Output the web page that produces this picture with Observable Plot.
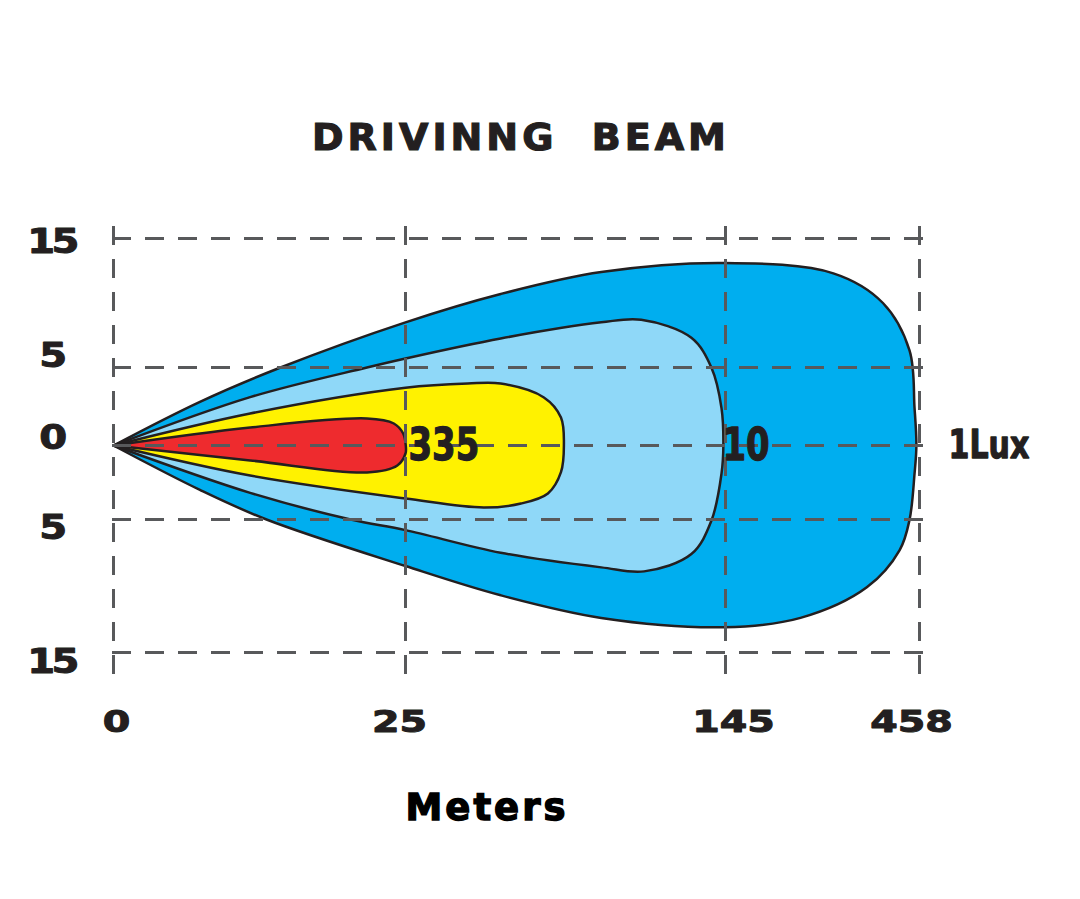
<!DOCTYPE html>
<html>
<head>
<meta charset="utf-8">
<script src="https://cdn.jsdelivr.net/npm/d3@7"></script>
<script src="https://cdn.jsdelivr.net/npm/@observablehq/plot@0.6"></script>
<style>
  html, body { margin: 0; padding: 0; background: #ffffff; }
  body { width: 1080px; height: 899px; overflow: hidden; color: #231f20; }
  #title {
    height: 180px; box-sizing: border-box; padding-top: 116px;
    width: 1042px; text-align: center;
    font-family: "DejaVu Sans", sans-serif; font-weight: bold; font-size: 38px;
    line-height: 42px; letter-spacing: 4px; white-space: pre;
    -webkit-text-stroke: 1.2px #231f20;
  }
  #chart svg { display: block; }
  #xlabel {
    width: 974px; text-align: center; margin-top: 28px;
    font-family: "DejaVu Sans", sans-serif; font-weight: bold; font-size: 37px;
    line-height: 40px; letter-spacing: 3px;
    -webkit-text-stroke: 1.4px #000;
    color: #000;
  }
</style>
</head>
<body>
<div id="title">DRIVINNG  BEAM</div>
<div id="chart"></div>
<div id="xlabel">Meters</div>
<script>
// Axis ticks
const xTicks = [0, 25, 145, 458];
const xTickLabels = ["0", "25", "145", "458"];
const yTicks = [15, 5, 0, -5, -15];
const yTickLabels = ["15", "5", "0", "5", "15"];

// Isolux contours (x in meters, y lateral offset)
const outerX = [0, 7.4, 14.3, 25, 60.7, 98.4, 144.6, 319, 399, 442, 450, 453, 450, 442, 426, 373, 266, 144.6, 98.4, 60.7, 25, 13.1, 7.4, 0];
const outerY = [0, 2.8, 5, 8.5, 10.7, 12.4, 13.1, 12.3, 10, 6.3, 2.4, 0, -1.9, -5, -7.3, -10.1, -12.4, -13.1, -12.4, -10.7, -8.5, -5, -3.0, 0];

const lightX = [0, 11.7, 21.7, 25, 60.7, 98.4, 113.4, 132.2, 139.7, 143.5, 144.2, 143.5, 139.7, 132.2, 114.5, 98.4, 60.7, 25, 20.3, 11.7, 0];
const lightY = [0, 3.1, 5, 5.7, 7.25, 8.5, 8.7, 7.3, 5, 2.4, 0, -1.9, -5.1, -7.6, -8.9, -8.6, -7.5, -5.8, -5, -3.2, 0];

const yellowX = [0, 11.7, 25, 48.3, 60.7, 76.9, 83.3, 84.4, 83.3, 78.4, 68.3, 54.3, 25, 11.7, 0];
const yellowY = [0, 2.05, 3.7, 3.97, 3.97, 3.08, 1.79, 0, -1.8, -3.24, -3.92, -4.19, -3.58, -2.03, 0];

const redX = [0, 11.7, 21.7, 24.0, 24.8, 25.1, 25.0, 24.3, 21.7, 11.7, 0];
const redY = [0, 1.15, 1.73, 1.41, 0.77, 0, -0.54, -1.35, -1.82, -1.01, 0];

// Lux labels
const luxLabels = ["335", "10", "1Lux"];
const luxLabelX = [25, 145, 458];

const toRows = (xs, ys) => xs.map((x, i) => ({x, y: ys[i]}));

// ---- styling ----
const ink = "#231f20";
const gridStyle = {stroke: "#58595b", strokeWidth: 3, strokeDasharray: "19,14"};
const contourStyle = {x: "x", y: "y", stroke: ink, strokeWidth: 2.5, curve: "catmull-rom"};
const luxDx = [3, -3, 29];
const luxSize = [44, 44, 39];
const xLabelNudge = [3, -6, 8, -8];     // the original tick labels sit slightly off their gridlines
const yLabelNudge = [4, -11, -7, 9, 10];
const boldFont = {fontFamily: "'DejaVu Sans', sans-serif", fontWeight: "bold", fill: ink, stroke: ink};

const luxMarks = luxLabels.map((t, i) => Plot.text([t], {
  x: () => luxLabelX[i], y: () => 0, text: d => d, dx: luxDx[i],
  ...boldFont, strokeWidth: 1.3, fontSize: luxSize[i], textAnchor: "start"
}));
const xLabelMarks = xTicks.map((v, i) => Plot.text([v], {
  x: d => d, text: () => xTickLabels[i], frameAnchor: "bottom", dy: 51, dx: xLabelNudge[i],
  ...boldFont, strokeWidth: 1, fontSize: 30
}));
const yLabelMarks = yTicks.map((v, i) => Plot.text([v], {
  y: d => d, text: () => yTickLabels[i], frameAnchor: "left", dx: -61, dy: yLabelNudge[i], textAnchor: "middle",
  ...boldFont, strokeWidth: 1, fontSize: 34
}));

const chart = Plot.plot({
  width: 1080,
  height: 580,
  marginLeft: 112,
  marginRight: 147,
  marginTop: 46,
  marginBottom: 80,
  x: {type: "linear", domain: xTicks, range: [113, 405, 725, 919], axis: null},
  y: {type: "linear", domain: [-15, -5, 0, 5, 15], range: [472, 339, 265, 187, 58], axis: null},
  style: {background: "transparent", overflow: "visible"},
  marks: [
    Plot.line(toRows(outerX, outerY), {...contourStyle, fill: "#00aeef"}),
    Plot.line(toRows(lightX, lightY), {...contourStyle, fill: "#8fd8f8"}),
    Plot.line(toRows(yellowX, yellowY), {...contourStyle, fill: "#fff200"}),
    Plot.line(toRows(redX, redY), {...contourStyle, fill: "#ee2b2e"}),
    Plot.ruleY(yTicks, gridStyle),
    Plot.ruleX(xTicks, gridStyle),
    ...luxMarks,
    ...xLabelMarks,
    ...yLabelMarks
  ]
});

// Horizontally stretch / condense glyphs to mimic the original extended & narrow typefaces
function stretch(group, sx, spacing) {
  d3.select(group).selectAll("text").each(function () {
    const t = d3.select(this);
    const tr = t.attr("transform") || "";
    t.attr("transform", `${tr} scale(${sx},1)`);
    if (spacing) t.style("letter-spacing", spacing);
  });
}
const textGroups = Array.from(chart.querySelectorAll('g[aria-label="text"]'));
const nL = luxMarks.length, nX = xLabelMarks.length;
textGroups.forEach((g, i) => {
  if (i < nL) stretch(g, 0.77);
  else if (i < nL + nX) stretch(g, 1.32);
  else stretch(g, 1.18, "-3px");
});

document.getElementById("chart").appendChild(chart);
</script>
</body>
</html>
